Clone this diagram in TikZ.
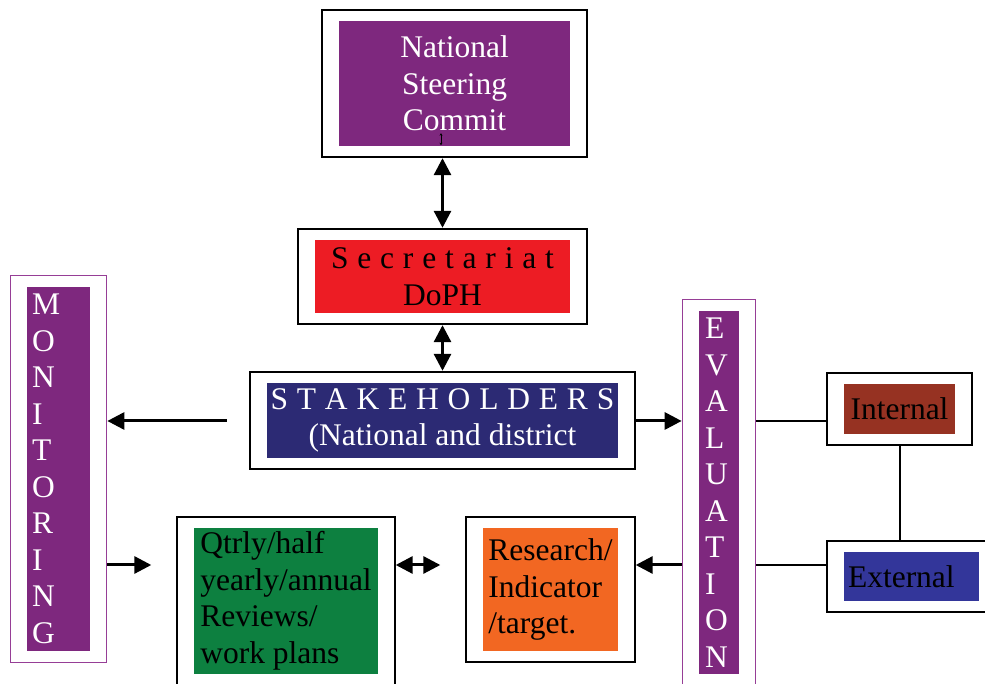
\documentclass[tikz,border=0pt]{standalone}
\usepackage{fontspec}
\setmainfont{Liberation Serif}
\usepackage{xcolor}
\usetikzlibrary{positioning,fit,calc,arrows.meta}

\definecolor{panelpurple}{RGB}{126,40,126}
\definecolor{framepurple}{RGB}{150,62,150}
\definecolor{secred}{RGB}{237,28,36}
\definecolor{stknavy}{RGB}{44,42,116}
\definecolor{revgreen}{RGB}{13,128,64}
\definecolor{resorange}{RGB}{242,103,34}
\definecolor{intbrown}{RGB}{150,50,34}
\definecolor{extblue}{RGB}{51,54,154}

\newcommand{\boxfont}{\fontsize{31.5}{36.5}\selectfont}
\newcommand{\spaced}[1]{{\spaceskip=.28em\relax #1}}

\begin{document}
\begin{tikzpicture}[
    x=1pt, y=1pt,
    panel/.style={rectangle, inner sep=4pt, font=\boxfont, text=black, align=center},
    frame/.style={rectangle, draw=black, line width=2pt, inner xsep=16.5pt, inner ysep=11pt},
    pframe/.style={frame, draw=framepurple, line width=1.3pt},
    arrow/.style={line width=3pt, -{Triangle[length=17pt,width=17pt]}},
    biarrow/.style={line width=3pt, {Triangle[length=17pt,width=17pt]}-{Triangle[length=17pt,width=17pt]}},
    link/.style={line width=2pt}
]
\useasboundingbox (0,0) rectangle (985,684);

% coloured panels
\node[panel, fill=panelpurple, text=white, minimum width=231, minimum height=125] (nsc) at (454.5,600.5) {National\\Steering\\Commit};
\node[panel, fill=secred, minimum width=255, minimum height=73] (sec) at (442.5,407.5) {\spaced{S e c r e t a r i a t}\\DoPH};
\node[panel, fill=stknavy, text=white, minimum width=351, minimum height=75] (stk) at (442.5,263.5) {\spaced{S T A K E H O L D E R S}\\(National and district};
\node[panel, fill=panelpurple, text=white, align=left, inner xsep=5pt, text width=53, minimum height=364] (mon) at (58.5,215) {M\\O\\N\\I\\T\\O\\R\\I\\N\\G};
\node[panel, fill=panelpurple, text=white, align=left, inner xsep=6pt, text width=28, minimum height=363] (eva) at (719,191.5) {E\\V\\A\\L\\U\\A\\T\\I\\O\\N};
\node[panel, fill=intbrown, minimum width=111, minimum height=50] (int) at (899.5,275) {Internal};
\node[panel, fill=extblue, align=left, text width=127, minimum height=49] (ext) at (911.5,107.5) {External};
\node[panel, fill=revgreen, align=left, minimum width=184, minimum height=146] (qtr) at (286,83) {Qtrly/half\\yearly/annual\\Reviews/\\work plans};
\node[panel, fill=resorange, align=left, minimum width=135, minimum height=123] (res) at (550.5,94.5) {Research/\\Indicator\\/target.};

% frames round the panels
\node[frame, fit=(nsc)] (nscf) {};
\node[frame, fit=(sec)] (secf) {};
\node[frame, fit=(stk)] (stkf) {};
\node[pframe, fit=(mon)] (monf) {};
\node[pframe, fit=(eva)] (evaf) {};
\node[frame, fit=(int)] (intf) {};
\node[frame, fit=(ext)] (extf) {};
\node[frame, fit=(qtr)] (qtrf) {};
\node[frame, fit=(res)] (resf) {};

\coordinate (upper) at (0,263);
\coordinate (lower) at (0,119);

\draw[line width=0.8pt, {Stealth[length=2.5pt,width=3pt]}-{Stealth[length=2.5pt,width=3pt]}] ([xshift=-13.5pt,yshift=1pt]nsc.south) -- ++(0,12);

\draw[biarrow] (secf.north) -- (secf.north |- nscf.south);
\draw[biarrow] (secf.south) -- (stkf.north);
\draw[arrow] ($(stkf.west |- upper)+(-22,0)$) -- (monf.east |- upper);
\draw[arrow] (stkf.east |- upper) -- (evaf.west |- upper);
\draw[arrow] (monf.east |- lower) -- ($(qtrf.west |- lower)+(-25,0)$);
\draw[biarrow] (qtrf.east |- lower) -- ($(resf.west |- lower)+(-25,0)$);
\draw[arrow] (evaf.west |- lower) -- (resf.east |- lower);
\draw[link] (evaf.east |- upper) -- (intf.west |- upper);
\draw[link] (evaf.east |- lower) -- (extf.west |- lower);
\draw[link] (intf.south) -- (intf.south |- extf.north);

\end{tikzpicture}
\end{document}
